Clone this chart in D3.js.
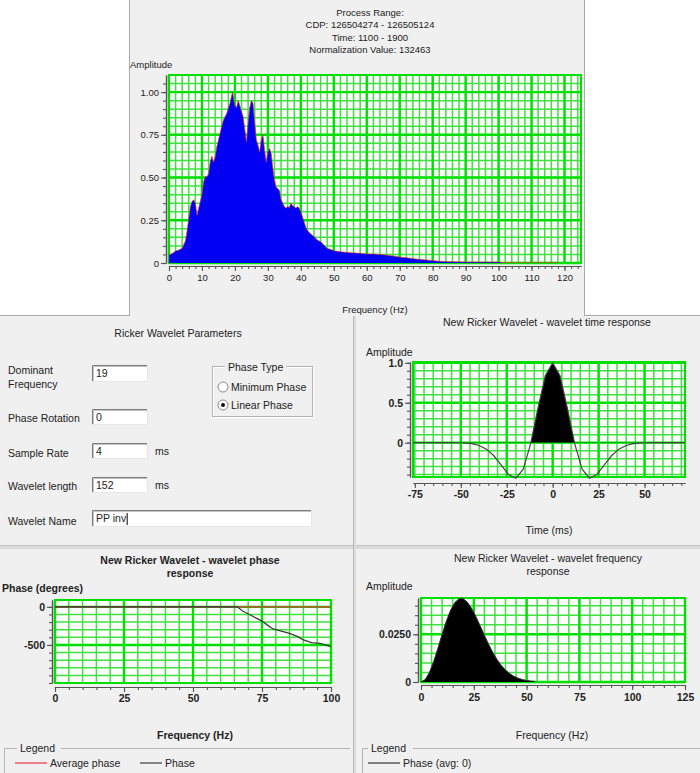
<!DOCTYPE html>
<html>
<head>
<meta charset="utf-8">
<script src="https://cdn.jsdelivr.net/npm/d3@7/dist/d3.min.js"></script>
<style>
  html, body { margin: 0; padding: 0; background: #fff; }
  svg { display: block; font-family: "Liberation Sans", Arial, sans-serif; }
</style>
</head>
<body>
<svg id="fig" width="700" height="773"></svg>
<script>
// ---------------- data ----------------
const headerLines = ["Process Range:", "CDP: 126504274 - 126505124", "Time: 1100 - 1900", "Normalization Value: 132463"];

// Normalized amplitude spectrum of the input traces
const spectrumFreq = [0, 1, 2, 3, 4, 5, 5.5, 6, 6.5, 7, 7.5, 8, 8.5, 9, 9.5, 10, 10.5, 11, 11.5, 12, 12.5, 13, 13.5, 14, 14.5,
  15, 15.5, 16, 16.5, 17, 17.5, 18, 18.5, 19, 19.3, 19.7, 20, 20.5, 21, 21.5, 22, 22.5, 23, 23.5, 24, 24.5, 25, 25.5,
  26, 26.5, 27, 27.5, 28, 28.5, 29, 29.5, 30, 30.5, 31, 31.5, 32, 32.5, 33, 33.5, 34, 34.5, 35, 35.5, 36, 36.5, 37,
  37.5, 38, 38.5, 39, 39.5, 40, 40.5, 41, 41.5, 42, 43, 44, 45, 46, 47, 48, 49, 50, 52, 55, 58, 60, 62, 65, 68, 70,
  72, 75, 78, 80, 82, 85, 90, 95, 100, 101, 105, 110, 115, 118];
const spectrumAmp = [0.047, 0.056, 0.07, 0.076, 0.086, 0.13, 0.19, 0.26, 0.33, 0.36, 0.37, 0.35, 0.28, 0.32, 0.36, 0.40,
  0.475, 0.505, 0.505, 0.52, 0.59, 0.625, 0.59, 0.62, 0.68, 0.72, 0.76, 0.80, 0.835, 0.855, 0.875, 0.905, 0.935, 0.98,
  1.0, 0.95, 0.92, 0.91, 0.95, 0.92, 0.885, 0.855, 0.78, 0.71, 0.82, 0.91, 0.95, 0.935, 0.82, 0.72, 0.69, 0.65, 0.72,
  0.75, 0.66, 0.59, 0.65, 0.67, 0.64, 0.555, 0.485, 0.445, 0.435, 0.425, 0.37, 0.35, 0.33, 0.32, 0.33, 0.325, 0.35,
  0.335, 0.33, 0.32, 0.33, 0.32, 0.30, 0.27, 0.24, 0.21, 0.19, 0.17, 0.155, 0.135, 0.125, 0.105, 0.085, 0.08, 0.072,
  0.066, 0.06, 0.057, 0.053, 0.053, 0.049, 0.041, 0.035, 0.031, 0.023, 0.018, 0.014, 0.01, 0.008, 0.006, 0.006, 0.006,
  0.003, 0.004, 0.004, 0.004, 0.004];
const spectrumFillEnd = 101;
const spectrumFreqTicks = [0, 10, 20, 30, 40, 50, 60, 70, 80, 90, 100, 110, 120];
const spectrumAmpTicks = [0, 0.25, 0.5, 0.75, 1.0];
const spectrumAmpLabels = ["0", "0.25", "0.50", "0.75", "1.00"];

// Ricker wavelet parameters
const paramLabels = ["Dominant\nFrequency", "Phase Rotation", "Sample Rate", "Wavelet length", "Wavelet Name"];
const paramValues = ["19", "0", "4", "152", "PP inv"];
const paramUnits = ["", "", "ms", "ms", ""];
const phaseTypes = ["Minimum Phase", "Linear Phase"];
const phaseTypeSelected = 1;

// Wavelet time response, 4 ms samples
const waveletTime = [-76, -72, -68, -64, -60, -56, -52, -48, -44, -40, -36, -32, -28, -24, -20, -16, -12, -8, -4, 0,
  4, 8, 12, 16, 20, 24, 28, 32, 36, 40, 44, 48, 52, 56, 60, 64, 68, 72];
const waveletAmp = [0, 0, 0, 0, 0, 0, -0.001, -0.004, -0.013, -0.035, -0.081, -0.164, -0.281, -0.399, -0.445, -0.331,
  -0.016, 0.433, 0.837, 1.0, 0.837, 0.433, -0.016, -0.331, -0.445, -0.399, -0.281, -0.164, -0.081, -0.035, -0.013,
  -0.004, -0.001, 0, 0, 0, 0, 0];
const timeTicks = [-75, -50, -25, 0, 25, 50];
const timeAmpTicks = [0, 0.5, 1.0];
const timeAmpLabels = ["0", "0.5", "1.0"];

// Wavelet phase response
const phaseFreq = [0, 66, 68, 72, 75, 77, 79, 82, 85, 88, 90, 93, 96, 100];
const phaseDeg = [0, 0, -55, -130, -187, -240, -290, -318, -348, -392, -435, -470, -480, -522];
const avgPhaseFreq = [0, 100];
const avgPhaseDeg = [0, 0];
const phaseFreqTicks = [0, 25, 50, 75, 100];
const phaseDegTicks = [0, -500];

// Wavelet frequency response
const respFreq = [0, 2, 4, 6, 8, 10, 12, 14, 16, 18, 19, 20, 22, 24, 26, 28, 30, 32, 34, 36, 38, 40, 42, 44, 46, 48, 50, 52, 54];
const respAmp = [0, 0.0013, 0.0050, 0.0108, 0.0177, 0.0250, 0.0319, 0.0376, 0.0416, 0.0436, 0.0438, 0.0436, 0.0418,
  0.0385, 0.0343, 0.0295, 0.0245, 0.0198, 0.0155, 0.0118, 0.0087, 0.0063, 0.0044, 0.0030, 0.0020, 0.0013, 0.0008,
  0.0005, 0.0003];
const respFreqTicks = [0, 25, 50, 75, 100, 125];
const respAmpTicks = [0, 0.025];
const respAmpLabels = ["0", "0.0250"];

// ---------------- drawing ----------------
const svg = d3.select("#fig");
const PANEL = "#f0f0f0";
const TEXT = "#222";
const AXIS = "#555";
const GRID_MAJOR = "#00e000";
const GRID_MINOR = "#3fe03f";

function text(g, str, x, y, opt = {}) {
  return g.append("text").attr("x", x).attr("y", y).text(str)
    .attr("font-size", opt.size || 10.5)
    .attr("font-weight", opt.bold ? "bold" : "normal")
    .attr("text-anchor", opt.anchor || "start")
    .attr("fill", opt.fill || TEXT);
}

function stepValues(a, b, s) {
  const n = Math.round((b - a) / s);
  return d3.range(n + 1).map(i => +(a + i * s).toFixed(6));
}

// plot area with green grid; returns scales
function plotArea(g, o) {
  const x = d3.scaleLinear().domain(o.xDomain).range([o.left, o.right]);
  const y = d3.scaleLinear().domain(o.yDomain).range([o.bottom, o.top]);
  g.append("rect").attr("x", o.left).attr("y", o.top)
    .attr("width", o.right - o.left).attr("height", o.bottom - o.top).attr("fill", "#fff");
  const grid = g.append("g");
  const vline = (vals, col, w) => grid.append("g").selectAll("line").data(vals).join("line")
    .attr("x1", d => x(d)).attr("x2", d => x(d)).attr("y1", o.top).attr("y2", o.bottom)
    .attr("stroke", col).attr("stroke-width", w);
  const hline = (vals, col, w) => grid.append("g").selectAll("line").data(vals).join("line")
    .attr("y1", d => y(d)).attr("y2", d => y(d)).attr("x1", o.left).attr("x2", o.right)
    .attr("stroke", col).attr("stroke-width", w);
  vline(o.xMinor, GRID_MINOR, 1.5);
  hline(o.yMinor, GRID_MINOR, 1.5);
  vline(o.xGrid, GRID_MAJOR, 2.4);
  hline(o.yGrid, GRID_MAJOR, 2.4);
  g.append("rect").attr("x", o.left).attr("y", o.top)
    .attr("width", o.right - o.left).attr("height", o.bottom - o.top)
    .attr("fill", "none").attr("stroke", GRID_MAJOR).attr("stroke-width", 2);
  return { x, y };
}

function axes(g, o, s) {
  const style = (sel) => {
    sel.select(".domain").attr("stroke", AXIS).attr("stroke-width", 1.2);
    sel.selectAll(".tick line").attr("stroke", AXIS).attr("stroke-width", 1.1);
    sel.selectAll("text").attr("fill", TEXT).attr("font-size", o.tickSize || 10.5)
      .attr("font-weight", o.tickBold ? "bold" : "normal")
      .attr("font-family", "\"Liberation Sans\", Arial, sans-serif");
  };
  const xg = o.xAxisGap || 3, yg = 3;
  g.append("g").attr("transform", `translate(0,${o.bottom + xg})`)
    .call(d3.axisBottom(s.x).tickValues(o.xMinor).tickFormat("").tickSize(3).tickSizeOuter(0)).call(style);
  g.append("g").attr("transform", `translate(0,${o.bottom + xg})`)
    .call(d3.axisBottom(s.x).tickValues(o.xTicks).tickFormat(o.xFmt || (d => d)).tickSize(5)
      .tickSizeOuter(0).tickPadding(o.xPad || 3)).call(style);
  g.append("g").attr("transform", `translate(${o.left - yg},0)`)
    .call(d3.axisLeft(s.y).tickValues(o.yMinor).tickFormat("").tickSize(3).tickSizeOuter(0)).call(style);
  g.append("g").attr("transform", `translate(${o.left - yg},0)`)
    .call(d3.axisLeft(s.y).tickValues(o.yTicks).tickFormat(o.yFmt || (d => d)).tickSize(5)
      .tickSizeOuter(0).tickPadding(2)).call(style);
}

// ---------- window chrome ----------
svg.append("rect").attr("width", 700).attr("height", 773).attr("fill", "#fff");
svg.append("rect").attr("x", 129.5).attr("y", -1).attr("width", 455).attr("height", 317.5)
  .attr("fill", PANEL).attr("stroke", "#a9a9a9");
svg.append("line").attr("x1", 0).attr("x2", 129).attr("y1", 315.5).attr("y2", 315.5).attr("stroke", "#a9a9a9");
svg.append("line").attr("x1", 585).attr("x2", 700).attr("y1", 315.5).attr("y2", 315.5).attr("stroke", "#a9a9a9");
svg.append("rect").attr("x", 0).attr("y", 316).attr("width", 700).attr("height", 457).attr("fill", PANEL);
// splitters between lower panels
svg.append("rect").attr("x", 0).attr("y", 545).attr("width", 700).attr("height", 4).attr("fill", "#dadada");
svg.append("line").attr("x1", 0).attr("x2", 700).attr("y1", 545.5).attr("y2", 545.5).attr("stroke", "#c2c2c2");
svg.append("rect").attr("x", 353).attr("y", 316).attr("width", 3).attr("height", 457).attr("fill", "#dcdcdc");
svg.append("line").attr("x1", 353.5).attr("x2", 353.5).attr("y1", 316).attr("y2", 773).attr("stroke", "#b8b8b8");

// ---------- top: amplitude spectrum ----------
{
  const g = svg.append("g");
  headerLines.forEach((t, i) => text(g, t, 370, 16 + i * 12.4, { size: 9.5, anchor: "middle" }));
  text(g, "Amplitude", 130, 68, { size: 9.5 });
  const o = {
    left: 169, right: 581, top: 75, bottom: 263,
    xDomain: [0, 125], yDomain: [0, 1.1],
    xMinor: stepValues(0, 124, 2), xGrid: spectrumFreqTicks,
    yMinor: stepValues(0, 1.05, 0.05), yGrid: spectrumAmpTicks,
    xTicks: spectrumFreqTicks, yTicks: spectrumAmpTicks,
    yFmt: (d, i) => spectrumAmpLabels[i], tickSize: 9.5, xPad: 3
  };
  const s = plotArea(g, o);
  const pts = spectrumFreq.map((f, i) => [f, spectrumAmp[i]]);
  const fillPts = pts.filter(p => p[0] <= spectrumFillEnd);
  g.append("path").datum(fillPts)
    .attr("d", d3.area().x(d => s.x(d[0])).y0(s.y(0)).y1(d => s.y(d[1])))
    .attr("fill", "#0000f2");
  g.append("path").datum(pts)
    .attr("d", d3.line().x(d => s.x(d[0])).y(d => s.y(d[1])))
    .attr("fill", "none").attr("stroke", "#e0303a").attr("stroke-width", 0.9).attr("stroke-opacity", 0.75);
  axes(g, o, s);
  text(g, "Frequency (Hz)", 375, 313, { size: 9.5, anchor: "middle" });
}

// ---------- middle left: parameter form ----------
{
  const g = svg.append("g");
  text(g, "Ricker Wavelet Parameters", 178, 337, { anchor: "middle" });
  const rows = [
    { ly: [373.5, 387.5], box: [92, 365, 56, 17] },
    { ly: [421.5], box: [92, 409, 56, 16] },
    { ly: [456.5], box: [92, 443, 56, 16] },
    { ly: [489.5], box: [92, 477, 56, 16] },
    { ly: [524.5], box: [92, 510, 220, 17] }
  ];
  rows.forEach((r, i) => {
    paramLabels[i].split("\n").forEach((t, k) => text(g, t, 8, r.ly[k]));
    const [bx, by, bw, bh] = r.box;
    g.append("rect").attr("x", bx).attr("y", by).attr("width", bw).attr("height", bh).attr("fill", "#fff");
    g.append("path").attr("d", `M${bx + 0.5},${by + bh} V${by + 0.5} H${bx + bw}`)
      .attr("fill", "none").attr("stroke", "#7c7c7c");
    g.append("path").attr("d", `M${bx + 1.5},${by + bh - 1} V${by + 1.5} H${bx + bw - 1}`)
      .attr("fill", "none").attr("stroke", "#c4c4c4");
    g.append("path").attr("d", `M${bx},${by + bh - 0.5} H${bx + bw - 0.5} V${by}`)
      .attr("fill", "none").attr("stroke", "#e6e6e6");
    const tx = text(g, paramValues[i], bx + 4, by + bh / 2 + 3.8);
    if (i === 4) {
      const w = tx.node().getComputedTextLength();
      g.append("line").attr("x1", bx + 5 + w).attr("x2", bx + 5 + w).attr("y1", by + 3).attr("y2", by + bh - 2)
        .attr("stroke", "#000").attr("stroke-width", 1);
    }
    if (paramUnits[i]) text(g, paramUnits[i], 155, by + bh / 2 + 3.8);
  });
  // phase type group
  const gx = 213, gy = 367, gw = 100, gh = 50;
  g.append("rect").attr("x", gx + 0.5).attr("y", gy + 0.5).attr("width", gw).attr("height", gh)
    .attr("fill", "none").attr("stroke", "#fff");
  g.append("rect").attr("x", gx - 0.5).attr("y", gy - 0.5).attr("width", gw).attr("height", gh)
    .attr("fill", "none").attr("stroke", "#b4b4b4");
  const lt = text(g, "Phase Type", 228, gy + 3.7);
  const lw = lt.node().getComputedTextLength();
  g.insert("rect", "text:last-of-type").attr("x", 225).attr("y", gy - 3).attr("width", lw + 6).attr("height", 6).attr("fill", PANEL);
  lt.raise();
  phaseTypes.forEach((t, i) => {
    const cy = 387 + i * 18;
    g.append("circle").attr("cx", 223).attr("cy", cy).attr("r", 5).attr("fill", "#fff").attr("stroke", "#8a8a8a");
    if (i === phaseTypeSelected) g.append("circle").attr("cx", 223).attr("cy", cy).attr("r", 2).attr("fill", "#111");
    text(g, t, 231, cy + 3.7);
  });
}

// ---------- middle right: wavelet time response ----------
{
  const g = svg.append("g");
  text(g, "New Ricker Wavelet - wavelet time response", 547, 326, { anchor: "middle" });
  text(g, "Amplitude", 366, 355.7);
  const o = {
    left: 413, right: 685, top: 362, bottom: 477,
    xDomain: [-76, 72], yDomain: [-0.43, 1.01],
    xMinor: stepValues(-75, 70, 5), xGrid: [-50, -25, 0, 25, 50],
    yMinor: stepValues(-0.4, 1.0, 0.1), yGrid: timeAmpTicks,
    xTicks: timeTicks, yTicks: timeAmpTicks, yFmt: (d, i) => timeAmpLabels[i],
    tickBold: true, xAxisGap: 6, xPad: 3
  };
  const s = plotArea(g, o);
  const pts = waveletTime.map((t, i) => [t, waveletAmp[i]]);
  const clipId = "posclip";
  g.append("clipPath").attr("id", clipId).append("rect")
    .attr("x", o.left).attr("y", o.top).attr("width", o.right - o.left).attr("height", s.y(0) - o.top);
  g.append("path").datum(pts).attr("clip-path", `url(#${clipId})`)
    .attr("d", d3.area().x(d => s.x(d[0])).y0(s.y(0)).y1(d => s.y(d[1])))
    .attr("fill", "#000");
  g.append("path").datum(pts)
    .attr("d", d3.line().x(d => s.x(d[0])).y(d => s.y(d[1])))
    .attr("fill", "none").attr("stroke", "#444").attr("stroke-width", 1.2);
  axes(g, o, s);
  text(g, "Time (ms)", 549, 533.7, { anchor: "middle" });
}

// ---------- bottom left: phase response ----------
{
  const g = svg.append("g");
  text(g, "New Ricker Wavelet - wavelet phase", 190, 563.7, { anchor: "middle", bold: true });
  text(g, "response", 190, 577, { anchor: "middle", bold: true });
  text(g, "Phase (degrees)", 2, 591.7, { bold: true });
  const o = {
    left: 55, right: 331, top: 600, bottom: 683,
    xDomain: [0, 100], yDomain: [-1000, 90],
    xMinor: stepValues(0, 100, 5), xGrid: phaseFreqTicks,
    yMinor: stepValues(-1000, 0, 100), yGrid: phaseDegTicks,
    xTicks: phaseFreqTicks, yTicks: phaseDegTicks, tickBold: true, xAxisGap: 4, xPad: 2.5
  };
  const s = plotArea(g, o);
  const line = d3.line().x(d => s.x(d[0])).y(d => s.y(d[1]));
  g.append("path").datum(avgPhaseFreq.map((f, i) => [f, avgPhaseDeg[i]]))
    .attr("d", line).attr("fill", "none").attr("stroke", "#e8333a").attr("stroke-width", 1.3);
  g.append("path").datum(phaseFreq.map((f, i) => [f, phaseDeg[i]]))
    .attr("d", line).attr("fill", "none").attr("stroke", "#3a3a3a").attr("stroke-width", 1.3);
  axes(g, o, s);
  text(g, "Frequency (Hz)", 195, 738.7, { anchor: "middle", bold: true });
  // legend group box
  g.append("path").attr("d", "M4.5,773 V748.5 H17 M61,748.5 H350").attr("fill", "none").attr("stroke", "#b4b4b4");
  text(g, "Legend", 20, 751.7);
  g.append("line").attr("x1", 15).attr("x2", 47).attr("y1", 763).attr("y2", 763).attr("stroke", "#e8333a").attr("stroke-width", 1.2);
  text(g, "Average phase", 50, 766.7);
  g.append("line").attr("x1", 140).attr("x2", 162).attr("y1", 763).attr("y2", 763).attr("stroke", "#3a3a3a").attr("stroke-width", 1.2);
  text(g, "Phase", 165, 766.7);
}

// ---------- bottom right: frequency response ----------
{
  const g = svg.append("g");
  text(g, "New Ricker Wavelet - wavelet frequency", 548, 561.7, { anchor: "middle" });
  text(g, "response", 548, 575, { anchor: "middle" });
  text(g, "Amplitude", 366, 590.4);
  const o = {
    left: 421, right: 685, top: 598, bottom: 682,
    xDomain: [0, 125], yDomain: [0, 0.044],
    xMinor: stepValues(0, 125, 5), xGrid: respFreqTicks,
    yMinor: stepValues(0, 0.04, 0.005), yGrid: respAmpTicks,
    xTicks: respFreqTicks, yTicks: respAmpTicks, yFmt: (d, i) => respAmpLabels[i],
    tickBold: true, xAxisGap: 3, xPad: 4
  };
  const s = plotArea(g, o);
  const pts = respFreq.map((f, i) => [f, respAmp[i]]);
  g.append("path").datum(pts)
    .attr("d", d3.area().x(d => s.x(d[0])).y0(s.y(0)).y1(d => s.y(d[1])))
    .attr("fill", "#000");
  g.append("path").datum(pts)
    .attr("d", d3.line().x(d => s.x(d[0])).y(d => s.y(d[1])))
    .attr("fill", "none").attr("stroke", "#333").attr("stroke-width", 1);
  axes(g, o, s);
  text(g, "Frequency (Hz)", 552, 738.7, { anchor: "middle" });
  g.append("path").attr("d", "M362.5,773 V748.5 H368 M413,748.5 H700").attr("fill", "none").attr("stroke", "#b4b4b4");
  text(g, "Legend", 371, 752);
  g.append("line").attr("x1", 368).attr("x2", 400).attr("y1", 763).attr("y2", 763).attr("stroke", "#333").attr("stroke-width", 1.2);
  text(g, "Phase (avg: 0)", 403, 767);
}
</script>
</body>
</html>
